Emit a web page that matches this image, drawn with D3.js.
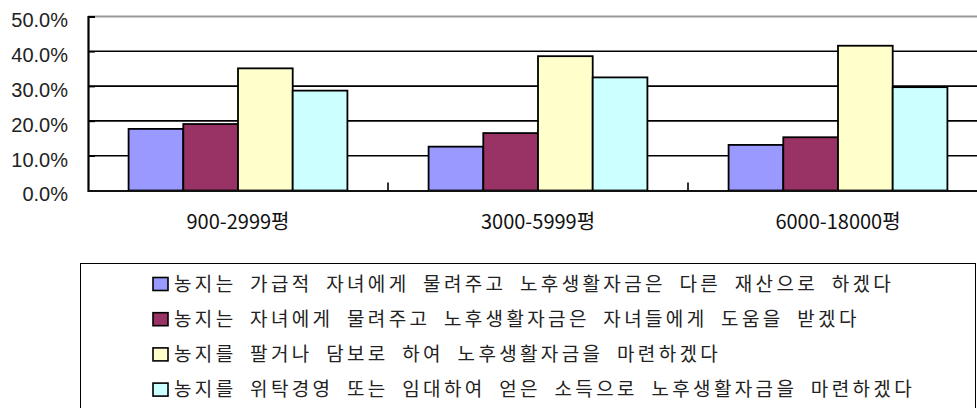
<!DOCTYPE html>
<html>
<head>
<meta charset="utf-8">
<script src="https://cdn.jsdelivr.net/npm/d3@7/dist/d3.min.js"></script>
<style>
  html, body { margin: 0; padding: 0; background: #fff; }
  svg { display: block; }
</style>
</head>
<body>
<svg id="chart" width="977" height="408"></svg>
<script>
// Farm size groups (평) and the answer shares for each group
const categories = ["900-2999평", "3000-5999평", "6000-18000평"];
const seriesNames = [
  "농지는 가급적 자녀에게 물려주고 노후생활자금은 다른 재산으로 하겠다",
  "농지는 자녀에게 물려주고 노후생활자금은 자녀들에게 도움을 받겠다",
  "농지를 팔거나 담보로 하여 노후생활자금을 마련하겠다",
  "농지를 위탁경영 또는 임대하여 얻은 소득으로 노후생활자금을 마련하겠다"
];
const seriesColors = ["#9999FF", "#993366", "#FFFFCC", "#CCFFFF"];
const giveKeepOther   = [0.177, 0.126, 0.131];
const giveHelpKids    = [0.191, 0.165, 0.153];
const sellMortgage    = [0.351, 0.386, 0.416];
const leaseIncome     = [0.287, 0.325, 0.297];
const yTicks = [0, 0.1, 0.2, 0.3, 0.4, 0.5];

const seriesValues = [giveKeepOther, giveHelpKids, sellMortgage, leaseIncome];

const svg = d3.select("#chart");

const x0 = d3.scaleBand().domain(categories).range([88, 988]).paddingInner(0).paddingOuter(0);
const x1 = d3.scaleBand().domain(d3.range(seriesNames.length))
  .range([0, x0.bandwidth()]).paddingInner(0).paddingOuter(0.742);
const y = d3.scaleLinear().domain([0, 0.5]).range([190.5, 16.5]);

// horizontal gridlines
svg.append("g").selectAll("line")
  .data(yTicks.filter(t => t > 0 && t < 0.5))
  .join("line")
  .attr("x1", 88).attr("x2", 988)
  .attr("y1", d => y(d)).attr("y2", d => y(d))
  .attr("stroke", "#000").attr("stroke-width", 1.6);

// top border of the plot area
svg.append("line")
  .attr("x1", 88).attr("x2", 988)
  .attr("y1", y(0.5)).attr("y2", y(0.5))
  .attr("stroke", "#999").attr("stroke-width", 2);

// bars
const groups = svg.append("g").selectAll("g")
  .data(categories)
  .join("g")
  .attr("transform", d => `translate(${x0(d)},0)`);

groups.selectAll("rect")
  .data((c, ci) => seriesValues.map((vals, si) => ({ si, v: vals[ci] })))
  .join("rect")
  .attr("x", d => x1(d.si))
  .attr("y", d => y(d.v))
  .attr("width", x1.bandwidth())
  .attr("height", d => y(0) - y(d.v))
  .attr("fill", d => seriesColors[d.si])
  .attr("stroke", "#000")
  .attr("stroke-width", 1.8);

// y axis
const yAxis = d3.axisLeft(y).tickValues(yTicks)
  .tickFormat(d => d3.format(".1f")(d * 100) + "%")
  .tickSize(-7).tickPadding(20);
const gy = svg.append("g").attr("transform", "translate(88,0)").call(yAxis);
gy.select(".domain").attr("stroke", "#000").attr("stroke-width", 2.2);
gy.selectAll(".tick line").attr("stroke", "#000").attr("stroke-width", 1.6);
gy.selectAll(".tick text")
  .attr("font-family", "'Liberation Sans', Arial, sans-serif")
  .attr("font-size", 20)
  .attr("fill", "#222")
  .attr("dy", "0.52em");

// x axis
const xAxis = d3.axisBottom(x0).tickSize(0).tickPadding(24);
const gx = svg.append("g").attr("transform", `translate(0,${y(0)})`).call(xAxis);
gx.select(".domain").attr("stroke", "#111").attr("stroke-width", 2.2);
gx.selectAll(".tick text")
  .attr("font-family", "'Liberation Sans Narrow', 'Arial Narrow', 'Noto Sans CJK KR', sans-serif")
  .attr("font-size", 20)
  .attr("fill", "#111");

// category separator ticks
svg.append("g").selectAll("line")
  .data(categories.slice(1))
  .join("line")
  .attr("x1", d => x0(d)).attr("x2", d => x0(d))
  .attr("y1", y(0)).attr("y2", y(0) - 8)
  .attr("stroke", "#000").attr("stroke-width", 1.6);

// legend
const legend = svg.append("g");
legend.append("rect")
  .attr("x", 80.5).attr("y", 263.5)
  .attr("width", 895).attr("height", 200)
  .attr("fill", "#fff").attr("stroke", "#000").attr("stroke-width", 1);

const rowY = d3.scalePoint().domain(d3.range(seriesNames.length)).range([284, 389.6]);
const items = legend.selectAll("g.item")
  .data(seriesNames)
  .join("g").attr("class", "item")
  .attr("transform", (d, i) => `translate(153,${rowY(i)})`);

items.append("rect")
  .attr("x", 0).attr("y", -6.5)
  .attr("width", 15).attr("height", 13)
  .attr("fill", (d, i) => seriesColors[i])
  .attr("stroke", "#000").attr("stroke-width", 1.6);

items.append("text")
  .attr("x", 21).attr("y", 0)
  .attr("dy", "0.36em")
  .attr("font-family", "'Noto Sans CJK KR', sans-serif")
  .attr("font-size", 19)
  .attr("letter-spacing", 3.35)
  .attr("word-spacing", 6)
  .attr("fill", "#222")
  .text(d => d);
</script>
</body>
</html>
